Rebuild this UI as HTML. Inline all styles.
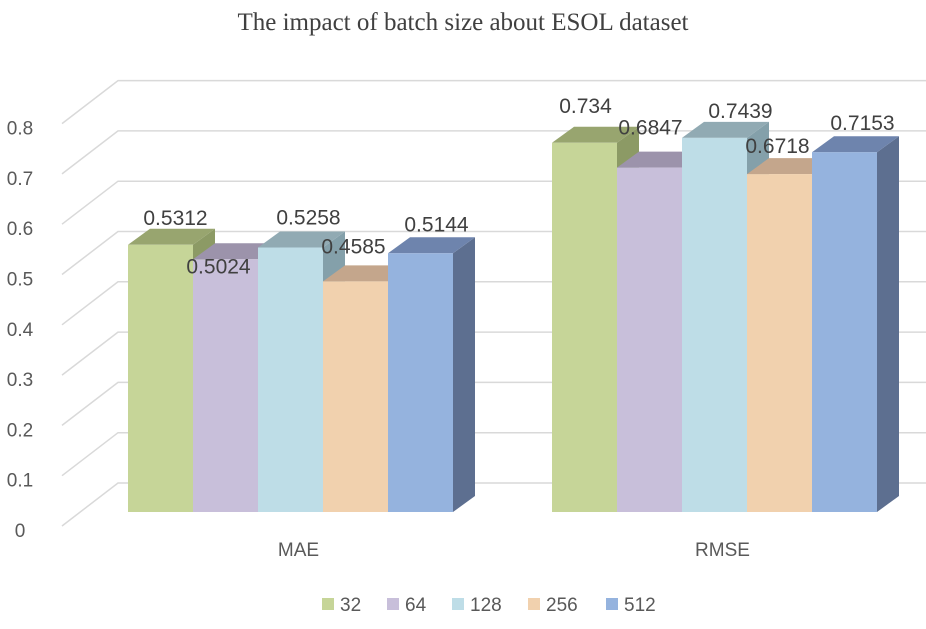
<!DOCTYPE html>
<html><head><meta charset="utf-8"><style>
body{margin:0;background:#fff}
svg{display:block}
</style></head><body>
<svg id="chart" width="926" height="629" viewBox="0 0 926 629">
<text x="463" y="30" text-anchor="middle" font-family="Liberation Serif, serif" font-size="25" fill="#404040">The impact of batch size about ESOL dataset</text>
<g id="grid"></g><g id="bars"></g><g id="labels"></g><g id="legend"></g>
</svg>
<script>
const categories = ["MAE", "RMSE"];
const seriesNames = ["32", "64", "128", "256", "512"];
const s32 = [0.5312, 0.734];
const s64 = [0.5024, 0.6847];
const s128 = [0.5258, 0.7439];
const s256 = [0.4585, 0.6718];
const s512 = [0.5144, 0.7153];
const yTicks = [0, 0.1, 0.2, 0.3, 0.4, 0.5, 0.6, 0.7, 0.8];

const series = [s32, s64, s128, s256, s512];
const front = ["#c6d598", "#c8bfda", "#bedde7", "#f1d1ae", "#95b3de"];
const topC = ["#98a56f", "#9c93ab", "#91aab3", "#c4a68c", "#6e84ad"];
const sideC = ["#8c9a65", "#8e859f", "#84a0aa", "#b39478", "#5d6f90"];
const NS = "http://www.w3.org/2000/svg";
const yBack = v => 483 - v * 503;
const yFront = v => 512 - v * 503;
const groupLeft = [128, 552];
const barW = 65, dX = 22, dY = -16;
function mk(tag, attrs, parent) {
  const e = document.createElementNS(NS, tag);
  for (const k in attrs) e.setAttribute(k, attrs[k]);
  parent.appendChild(e); return e;
}
const grid = document.getElementById("grid");
yTicks.forEach(t => {
  const y = yBack(t);
  const l = mk("polyline", {points: `62,${y+43} 118,${y} 926,${y}`, fill: "none", stroke: "#d9d9d9", "stroke-width": 1.5}, grid);
  
  
  const tx = mk("text", {x: 20, y: y + 54, "font-family": "Liberation Sans, sans-serif", "font-size": 19, fill: "#595959", "text-anchor": "middle"}, grid);
  tx.textContent = String(t);
  
  
});
const bars = document.getElementById("bars");
const labels = document.getElementById("labels");
const labDx = [[15, -7, 18, -2, 16], [1, 1, 26, -2, 18]];
const labDy = [[-28, 6, -31, -36, -30], [-38, -41, -28, -29, -30]];
categories.forEach((c, ci) => {
  series.forEach((s, si) => {
    const v = s[ci];
    const x = groupLeft[ci] + si * barW, y = yFront(v), yb = 512;
    const side = mk("polygon", {points: `${x+barW},${y} ${x+barW+dX},${y+dY} ${x+barW+dX},${yb+dY} ${x+barW},${yb}`, fill: sideC[si]}, bars);
    
    
    const top = mk("polygon", {points: `${x},${y} ${x+dX},${y+dY} ${x+barW+dX},${y+dY} ${x+barW},${y}`, fill: topC[si]}, bars);
    
    
    const r = mk("rect", {x: x, y: y, width: barW, height: yb - y, fill: front[si]}, bars);
    
    
    const t = mk("text", {x: x + barW / 2 + labDx[ci][si], y: y + labDy[ci][si] + 8, "text-anchor": "middle", "font-family": "Liberation Sans, sans-serif", "font-size": 21, fill: "#404040"}, labels);
    t.textContent = String(v);
    
    
  });
  const cl = mk("text", {x: groupLeft[ci] + 2.5 * barW + 8, y: 556, "text-anchor": "middle", "font-family": "Liberation Sans, sans-serif", "font-size": 19, fill: "#595959"}, labels);
  cl.textContent = c;
  
  
});
const legend = document.getElementById("legend");
const legX = [322, 387, 452, 528, 606];
seriesNames.forEach((n, i) => {
  const sq = mk("rect", {x: legX[i], y: 598, width: 12, height: 12, fill: front[i]}, legend);
  
  
  const t = mk("text", {x: legX[i] + 18, y: 611, "font-family": "Liberation Sans, sans-serif", "font-size": 19, fill: "#595959"}, legend);
  t.textContent = n;
  
  
});
</script>
</body></html>
